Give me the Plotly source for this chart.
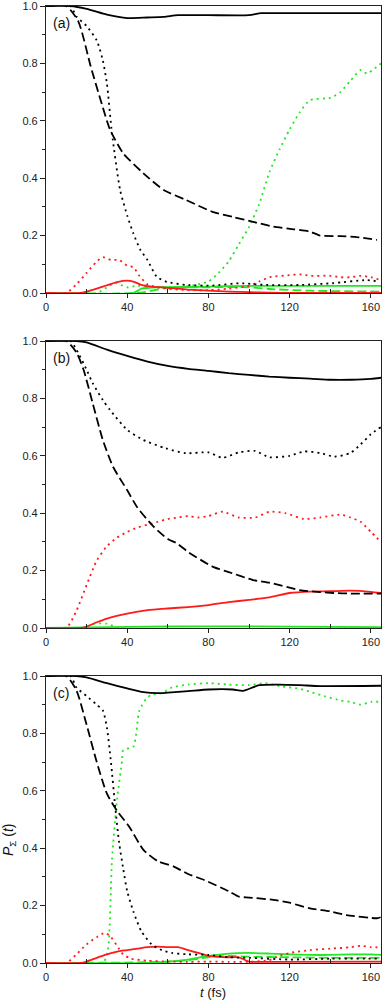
import plotly.graph_objects as go
from plotly.subplots import make_subplots

# ---------------- panel (a) ----------------
a_bs_t = [0, 12, 20, 30, 40, 50, 58, 65, 80, 100, 106, 120, 165]
a_bs_v = [1.0, 1.0, 0.99, 0.97, 0.958, 0.96, 0.962, 0.968, 0.968, 0.968, 0.975, 0.975, 0.975]

a_bd_t = [0, 10, 16, 22, 27, 31.5, 38, 48, 58, 69, 82, 92, 102, 112, 122, 130, 135, 145, 153, 163]
a_bd_v = [1.0, 1.0, 0.945, 0.79, 0.67, 0.57, 0.487, 0.417, 0.359, 0.324, 0.283, 0.265, 0.248, 0.231, 0.222, 0.214, 0.2, 0.198, 0.195, 0.185]

a_bo_t = [0, 12, 15, 20, 25, 28, 30, 32.5, 36.5, 40, 43, 46.5, 50, 54.5, 59.5, 69, 82, 95.5, 108.5, 125, 141, 158, 164]
a_bo_v = [1.0, 1.0, 0.963, 0.93, 0.88, 0.81, 0.73, 0.556, 0.359, 0.27, 0.208, 0.15, 0.115, 0.057, 0.039, 0.028, 0.026, 0.034, 0.028, 0.028, 0.034, 0.045, 0.04]

a_rs_t = [0, 17, 20, 25, 30, 35, 40, 43, 47, 52, 60, 70, 80, 90, 100, 110, 120, 165]
a_rs_v = [0, 0, 0.005, 0.015, 0.027, 0.038, 0.043, 0.04, 0.028, 0.022, 0.018, 0.012, 0.008, 0.005, 0.003, 0.001, 0, 0]

a_ro_t = [0, 10, 15, 20, 25, 28, 32, 36, 40, 43, 46, 50, 55, 60, 70, 80, 90, 100, 105, 110, 120, 125, 130, 140, 145, 150, 155, 160, 165]
a_ro_v = [0, 0, 0.03, 0.07, 0.11, 0.125, 0.115, 0.115, 0.095, 0.09, 0.06, 0.03, 0.02, 0.015, 0.01, 0.01, 0.015, 0.025, 0.04, 0.055, 0.062, 0.065, 0.06, 0.06, 0.055, 0.055, 0.06, 0.055, 0.045]

a_gs_t = [0, 43, 47, 55, 60, 80, 100, 165]
a_gs_v = [0, 0, 0.015, 0.02, 0.02, 0.022, 0.025, 0.025]

a_gd_t = [0, 45, 60, 80, 100, 110, 130, 165]
a_gd_v = [0, 0, 0.018, 0.02, 0.02, 0.014, 0.008, 0.005]

a_go_t = [0, 25, 30, 34, 40, 45, 55, 65, 75, 80, 85, 90, 95, 100, 105, 110, 115, 120, 125, 130, 140, 145, 150, 155, 158, 165]
a_go_v = [0, 0, 0.02, 0.035, 0.02, 0.025, 0.02, 0.02, 0.03, 0.04, 0.07, 0.11, 0.17, 0.23, 0.31, 0.42, 0.5, 0.57, 0.63, 0.672, 0.68, 0.70, 0.74, 0.777, 0.765, 0.80]

# ---------------- panel (b) ----------------
b_bs_t = [0, 15, 20, 30, 40, 50, 60, 70, 80, 90, 100, 110, 120, 130, 140, 150, 160, 165]
b_bs_v = [1.0, 1.0, 0.995, 0.97, 0.948, 0.928, 0.913, 0.903, 0.896, 0.888, 0.882, 0.876, 0.872, 0.869, 0.865, 0.865, 0.868, 0.872]

b_bd_t = [0, 10, 15, 18.5, 23, 28, 33, 40, 45, 53, 60, 64.5, 70, 82, 90, 102, 110, 125, 135, 142, 150, 165]
b_bd_v = [1.0, 1.0, 0.96, 0.9, 0.783, 0.655, 0.562, 0.48, 0.42, 0.353, 0.31, 0.295, 0.265, 0.214, 0.195, 0.167, 0.158, 0.132, 0.125, 0.122, 0.12, 0.12]

b_bo_t = [0, 12, 15, 20, 23, 28, 31.5, 40, 48, 59, 69, 80, 87, 95, 103, 110, 120, 127, 135, 142, 150, 155, 160, 165]
b_bo_v = [1.0, 1.0, 0.97, 0.9, 0.853, 0.794, 0.76, 0.69, 0.655, 0.626, 0.609, 0.612, 0.593, 0.612, 0.617, 0.595, 0.6, 0.615, 0.61, 0.597, 0.61, 0.64, 0.675, 0.70]

b_rs_t = [0, 17, 20, 25, 30, 40, 50, 60, 70, 80, 90, 100, 110, 120, 130, 140, 150, 160, 165]
b_rs_v = [0, 0, 0.005, 0.02, 0.033, 0.05, 0.062, 0.068, 0.073, 0.08, 0.09, 0.098, 0.107, 0.122, 0.127, 0.128, 0.13, 0.126, 0.122]

b_ro_t = [0, 10, 15, 20, 25, 30, 35, 40, 45, 50, 55, 60, 65, 70, 75, 80, 87, 95, 103, 110, 118, 127, 135, 145, 150, 155, 160, 165]
b_ro_v = [0, 0, 0.06, 0.15, 0.235, 0.285, 0.315, 0.335, 0.35, 0.36, 0.37, 0.38, 0.385, 0.39, 0.385, 0.39, 0.405, 0.385, 0.385, 0.405, 0.4, 0.38, 0.385, 0.395, 0.385, 0.37, 0.335, 0.30]

b_gs_t = [0, 20, 40, 80, 120, 165]
b_gs_v = [0, 0.002, 0.004, 0.006, 0.005, 0.003]

b_go_t = [0, 18, 24, 30, 36, 165]
b_go_v = [0, 0, 0.015, 0.015, 0.0, 0.0]

# ---------------- panel (c) ----------------
c_bs_t = [0, 15, 20, 30, 40, 48, 55, 60, 70, 80, 92, 97, 105, 115, 125, 135, 165]
c_bs_v = [1.0, 1.0, 0.995, 0.975, 0.957, 0.944, 0.94, 0.942, 0.947, 0.953, 0.953, 0.948, 0.968, 0.97, 0.968, 0.965, 0.966]

c_bd_t = [0, 10, 15, 20, 25, 30, 35, 41, 48, 55, 63, 70, 78, 90, 95, 100, 112, 120, 130, 140, 148, 163, 165]
c_bd_v = [1.0, 1.0, 0.95, 0.83, 0.70, 0.59, 0.53, 0.475, 0.394, 0.355, 0.336, 0.31, 0.289, 0.25, 0.231, 0.228, 0.22, 0.21, 0.19, 0.18, 0.167, 0.156, 0.16]

c_bo_t = [0, 12, 15, 20, 25, 28, 30, 32, 34, 36, 38, 40, 43, 47, 52, 57, 62, 70, 80, 90, 100, 120, 140, 165]
c_bo_v = [1.0, 1.0, 0.96, 0.93, 0.9, 0.88, 0.82, 0.70, 0.55, 0.42, 0.33, 0.25, 0.18, 0.11, 0.065, 0.045, 0.035, 0.03, 0.028, 0.02, 0.018, 0.012, 0.015, 0.015]

c_rs_t = [0, 17, 20, 25, 30, 35, 40, 45, 50, 55, 60, 65, 70, 75, 80, 90, 95, 100, 110, 165]
c_rs_v = [0, 0, 0.005, 0.018, 0.03, 0.04, 0.045, 0.05, 0.055, 0.057, 0.055, 0.055, 0.045, 0.035, 0.025, 0.02, 0.02, 0.005, 0.004, 0.005]

c_ro_t = [0, 10, 15, 20, 25, 29, 32, 35, 38, 42, 50, 60, 70, 80, 90, 100, 110, 115, 120, 130, 140, 150, 155, 160, 165]
c_ro_v = [0, 0, 0.03, 0.065, 0.09, 0.105, 0.09, 0.06, 0.03, 0.015, 0.008, 0.005, 0.004, 0.005, 0.004, 0.004, 0.01, 0.025, 0.035, 0.045, 0.05, 0.055, 0.06, 0.055, 0.055]

c_gs_t = [0, 50, 60, 70, 80, 90, 100, 110, 120, 130, 140, 150, 160, 165]
c_gs_v = [0, 0, 0.005, 0.012, 0.025, 0.033, 0.035, 0.033, 0.03, 0.028, 0.028, 0.03, 0.03, 0.028]

c_gd_t = [0, 45, 60, 70, 80, 90, 100, 120, 140, 165]
c_gd_v = [0, 0.002, 0.005, 0.01, 0.02, 0.025, 0.022, 0.02, 0.018, 0.018]

c_go_t = [0, 28, 30.5, 32.5, 35, 37.5, 38, 43, 46, 49.5, 52, 57, 62, 70, 80, 90, 100, 108, 115, 125, 130, 137, 145, 150, 155, 160, 165]
c_go_v = [0, 0, 0.045, 0.36, 0.57, 0.707, 0.742, 0.754, 0.88, 0.922, 0.935, 0.94, 0.96, 0.97, 0.975, 0.97, 0.968, 0.975, 0.965, 0.955, 0.945, 0.93, 0.915, 0.91, 0.9, 0.91, 0.91]

BLACK = "black"
RED = "#ff1a1a"
GREEN = "#22e622"
DOT = "2px,4px"
DASH = "9px,4px"

panels = [
    ("(a)", [
        (a_gd_t, a_gd_v, GREEN, DASH), (a_gs_t, a_gs_v, GREEN, "solid"), (a_go_t, a_go_v, GREEN, DOT),
        (a_rs_t, a_rs_v, RED, "solid"), (a_ro_t, a_ro_v, RED, DOT),
        (a_bs_t, a_bs_v, BLACK, "solid"), (a_bd_t, a_bd_v, BLACK, DASH), (a_bo_t, a_bo_v, BLACK, DOT),
    ]),
    ("(b)", [
        (b_gs_t, b_gs_v, GREEN, "solid"), (b_go_t, b_go_v, GREEN, DOT),
        (b_rs_t, b_rs_v, RED, "solid"), (b_ro_t, b_ro_v, RED, DOT),
        (b_bs_t, b_bs_v, BLACK, "solid"), (b_bd_t, b_bd_v, BLACK, DASH), (b_bo_t, b_bo_v, BLACK, DOT),
    ]),
    ("(c)", [
        (c_gd_t, c_gd_v, GREEN, DASH), (c_gs_t, c_gs_v, GREEN, "solid"), (c_go_t, c_go_v, GREEN, DOT),
        (c_rs_t, c_rs_v, RED, "solid"), (c_ro_t, c_ro_v, RED, DOT),
        (c_bs_t, c_bs_v, BLACK, "solid"), (c_bd_t, c_bd_v, BLACK, DASH), (c_bo_t, c_bo_v, BLACK, DOT),
    ]),
]

fig = make_subplots(rows=3, cols=1)

W, H = 382.0, 1005.0
L, R = 46, 1
PW = W - L - R
# plot areas in pixels (top, bottom)
boxes = [(6, 293), (341, 628), (676, 963)]

for i, (label, series) in enumerate(panels):
    row = i + 1
    for t, v, col, dash in series:
        fig.add_trace(
            go.Scatter(x=t, y=v, mode="lines",
                       line=dict(color=col, width=1.8, dash=dash, shape="spline", smoothing=0.6),
                       showlegend=False, hoverinfo="skip"),
            row=row, col=1,
        )
    top, bot = boxes[i]
    fig.update_yaxes(domain=[1 - bot / H, 1 - top / H], row=row, col=1)
    fig.add_annotation(
        x=(51 - L) / PW, y=1 - (top + 17) / H, xref="paper", yref="paper",
        text=label, showarrow=False, xanchor="left", yanchor="middle",
        font=dict(size=14, color="#111", family="Liberation Sans"),
    )

fig.update_xaxes(
    range=[0, 165],
    tickvals=[0, 40, 80, 120, 160],
    showline=True,
    linecolor="#222",
    linewidth=1.2,
    mirror=True,
    ticks="outside",
    ticklen=4,
    tickcolor="#222",
    minor=dict(tickvals=[20, 60, 100, 140], ticks="inside", ticklen=4, tickcolor="#222"),
    showgrid=False,
    zeroline=False,
    automargin=False,
    ticklabeloverflow="allow",
    tickfont=dict(size=11, color="#222", family="Liberation Sans"),
)
fig.update_yaxes(
    range=[0, 1.0],
    tickvals=[0, 0.2, 0.4, 0.6, 0.8, 1.0],
    tickformat=".1f",
    showline=True,
    linecolor="#222",
    linewidth=1.2,
    mirror=True,
    ticks="outside",
    ticklen=5,
    tickcolor="#222",
    minor=dict(tickvals=[0.1, 0.3, 0.5, 0.7, 0.9], ticks="outside", ticklen=3, tickcolor="#222"),
    showgrid=False,
    zeroline=False,
    automargin=False,
    ticklabeloverflow="allow",
    tickfont=dict(size=11, color="#222", family="Liberation Sans"),
)

# axis titles
fig.add_annotation(
    x=(213 - L) / PW, y=1 - 992 / H, xref="paper", yref="paper",
    text="<i>t</i> (fs)", showarrow=False, xanchor="center", yanchor="middle",
    font=dict(size=13, color="#111", family="Liberation Sans"),
)
fig.add_annotation(
    x=(9 - L) / PW, y=1 - 840 / H, xref="paper", yref="paper",
    text="<i>P</i><sub>Σ</sub> (<i>t</i>)", showarrow=False, textangle=-90,
    xanchor="center", yanchor="middle",
    font=dict(size=14, color="#111", family="Liberation Sans"),
)

fig.update_layout(
    width=W,
    height=H,
    margin=dict(l=L, r=R, t=0, b=0),
    paper_bgcolor="white",
    plot_bgcolor="white",
    showlegend=False,
)

fig.write_html(
    "out.html",
    config={"displayModeBar": False},
    post_script="document.body.style.margin='0';",
)
